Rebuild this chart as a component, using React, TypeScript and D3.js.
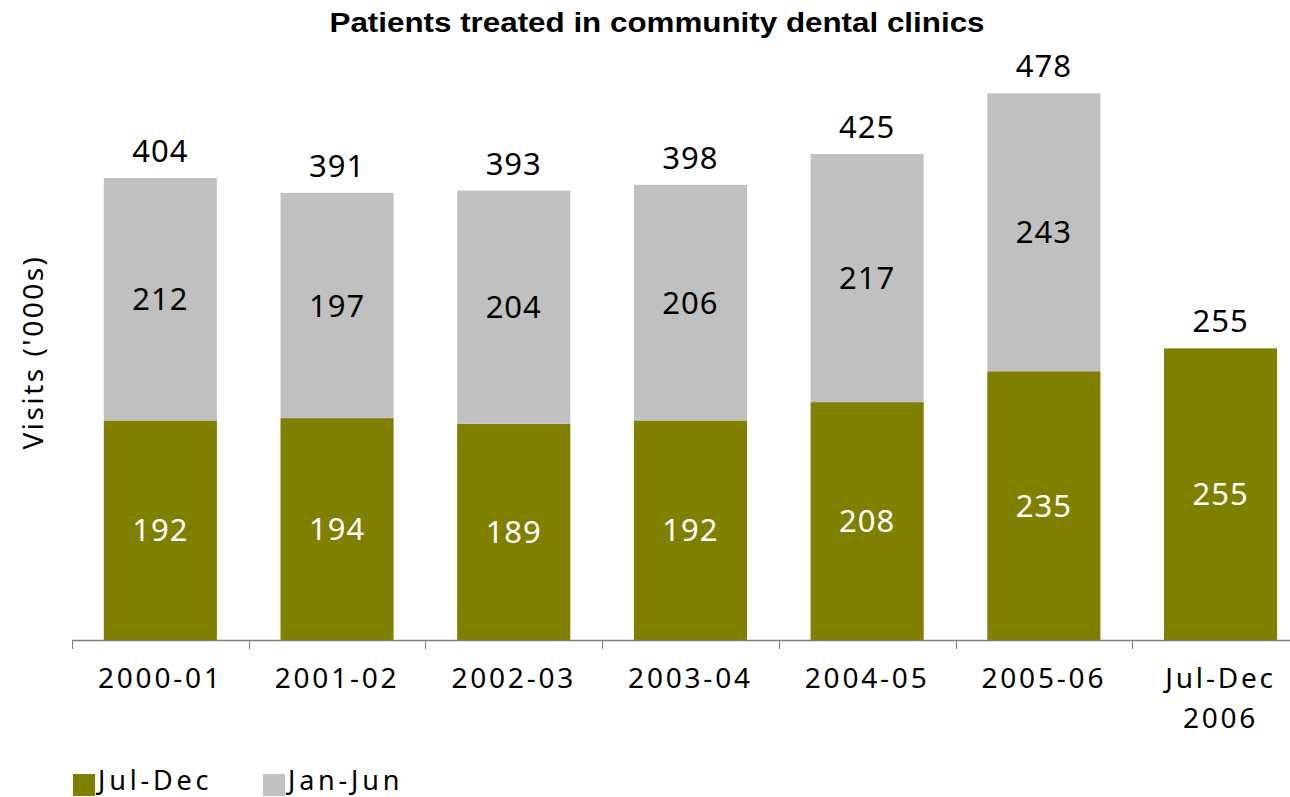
import { useEffect, useRef } from 'react';
import * as d3 from 'd3';

const categories = ['2000-01', '2001-02', '2002-03', '2003-04', '2004-05', '2005-06', 'Jul-Dec\n2006'];
const julDec = [192, 194, 189, 192, 208, 235, 255];
const janJun = [212, 197, 204, 206, 217, 243, 0];
const totals = [404, 391, 393, 398, 425, 478, 255];
const seriesNames = ['Jul-Dec', 'Jan-Jun'];
const colors = ['#808000', '#c0c0c0'];

export default function App() {
  const svgRef = useRef<SVGSVGElement>(null);

  useEffect(() => {
    if (!svgRef.current) return;
    const width = 1290;
    const height = 797;
    const font = '"Noto Sans", "DejaVu Sans", sans-serif';

    const svg = d3.select(svgRef.current);
    svg.selectAll('*').remove();
    svg.attr('width', width).attr('height', height);

    const x0 = 72;
    const bandW = 176.7;
    const x = d3.scaleBand<string>()
      .domain(categories)
      .range([x0, x0 + bandW * categories.length])
      .paddingInner(0.36)
      .paddingOuter(0.18);

    const baseY = 640;
    const y = d3.scaleLinear().domain([0, 500]).range([baseY, baseY - 500 * 1.1436]);

    // title
    svg.append('text')
      .attr('x', 657)
      .attr('y', 32)
      .attr('text-anchor', 'middle')
      .attr('font-family', '"Liberation Sans Narrow", "Liberation Sans", Arial, sans-serif')
      .attr('font-weight', 'bold')
      .attr('font-size', 27)
      .attr('textLength', 655)
      .attr('lengthAdjust', 'spacingAndGlyphs')
      .text('Patients treated in community dental clinics');

    // y label
    svg.append('text')
      .attr('transform', `translate(43,352) rotate(-90)`)
      .attr('text-anchor', 'middle')
      .attr('font-family', font)
      .attr('font-size', 28)
      .attr('letter-spacing', 2.5)
      .text("Visits ('000s)");

    const g = svg.append('g');

    // bars
    categories.forEach((c, i) => {
      const bx = x(c)!;
      const bw = x.bandwidth();
      g.append('rect')
        .attr('x', bx).attr('width', bw)
        .attr('y', y(julDec[i])).attr('height', baseY - y(julDec[i]))
        .attr('fill', colors[0]);
      if (janJun[i] > 0) {
        g.append('rect')
          .attr('x', bx).attr('width', bw)
          .attr('y', y(julDec[i] + janJun[i])).attr('height', y(julDec[i]) - y(julDec[i] + janJun[i]))
          .attr('fill', colors[1]);
      }
      const cx = bx + bw / 2;
      const lbl = (ty: number, txt: number, fill: string, dy: string) =>
        g.append('text')
          .attr('x', cx).attr('y', ty)
          .attr('dy', dy)
          .attr('text-anchor', 'middle')
          .attr('font-family', font)
          .attr('font-size', 31)
          .attr('letter-spacing', 1)
          .attr('fill', fill)
          .text(txt);
      lbl((y(0) + y(julDec[i])) / 2, julDec[i], '#ffffff', '0.36em');
      if (janJun[i] > 0) {
        lbl((y(julDec[i]) + y(julDec[i] + janJun[i])) / 2, janJun[i], '#000000', '0.36em');
      }
      lbl(y(totals[i]) - 16, totals[i], '#000000', '0');
    });

    // x axis
    const axis = svg.append('g');
    axis.append('line')
      .attr('x1', x0).attr('x2', x0 + bandW * categories.length)
      .attr('y1', baseY + 0.5).attr('y2', baseY + 0.5)
      .attr('stroke', '#808080').attr('stroke-width', 1.5);
    d3.range(categories.length + 1).forEach(k => {
      const tx = Math.round(x0 + bandW * k) + 0.5;
      axis.append('line')
        .attr('x1', tx).attr('x2', tx)
        .attr('y1', baseY).attr('y2', baseY + 9)
        .attr('stroke', '#808080').attr('stroke-width', 1);
    });
    categories.forEach(c => {
      const lines = c.split('\n');
      const t = axis.append('text')
        .attr('x', x(c)! + x.bandwidth() / 2)
        .attr('y', 688)
        .attr('text-anchor', 'middle')
        .attr('font-family', font)
        .attr('font-size', 28)
        .attr('letter-spacing', 2.8);
      lines.forEach((l, li) => {
        t.append('tspan')
          .attr('x', x(c)! + x.bandwidth() / 2)
          .attr('dy', li === 0 ? 0 : 40)
          .text(l);
      });
    });

    // legend
    const legend = svg.append('g');
    const legX = [73, 263];
    seriesNames.forEach((s, i) => {
      legend.append('rect')
        .attr('x', legX[i]).attr('y', 774)
        .attr('width', 22).attr('height', 22)
        .attr('fill', colors[i]);
      legend.append('text')
        .attr('x', legX[i] + 25).attr('y', 790)
        .attr('font-family', font)
        .attr('font-size', 27)
        .attr('letter-spacing', 3.8)
        .text(s);
    });
  }, []);

  return (
    <div style={{ position: 'absolute', left: 0, top: 0, width: 1290, height: 797, overflow: 'hidden', background: '#fff' }}>
      <svg ref={svgRef} style={{ display: 'block' }} />
    </div>
  );
}
